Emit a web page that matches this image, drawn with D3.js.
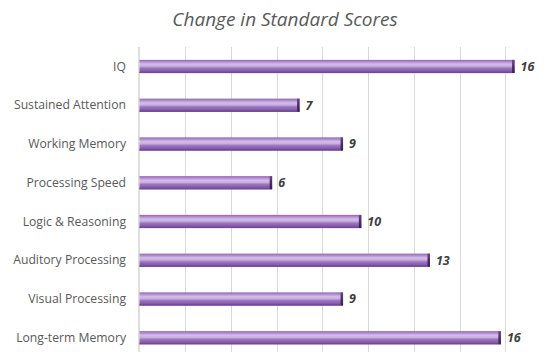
<!DOCTYPE html>
<html>
<head>
<meta charset="utf-8">
<script src="https://cdn.jsdelivr.net/npm/d3@7"></script>
<style>
  html, body { margin: 0; padding: 0; background: #fff; }
  svg { display: block; }
</style>
</head>
<body>
<svg id="chart" width="545" height="352"></svg>
<script>
// Change in standard scores per cognitive skill
const categories = [
  "IQ",
  "Sustained Attention",
  "Working Memory",
  "Processing Speed",
  "Logic & Reasoning",
  "Auditory Processing",
  "Visual Processing",
  "Long-term Memory"
];
const scoreChange = [16.4, 7.0, 8.9, 5.8, 9.7, 12.7, 8.9, 15.8];
const xTicks = [2, 4, 6, 8, 10, 12, 14, 16, 18];
const chartTitle = "Change in Standard Scores";

const svg = d3.select("#chart");
const W = 545, H = 352;

const x = d3.scaleLinear().domain([0, 18]).range([139.5, 551.2]);
const y = d3.scaleBand().domain(categories).range([47.1, 357.1]).paddingInner(0.66).paddingOuter(0.33);

// bar gradient: rounded cylinder look
const defs = svg.append("defs");
const grad = defs.append("linearGradient")
  .attr("id", "barFill").attr("x1", 0).attr("y1", 0).attr("x2", 0).attr("y2", 1);
[
  [0, "#8e62b4"], [0.12, "#ad86cc"], [0.32, "#d4bde8"], [0.48, "#c8aee0"],
  [0.62, "#9d77c0"], [0.85, "#8459aa"], [1, "#673f8a"]
].forEach(([o, c]) => grad.append("stop").attr("offset", o).attr("stop-color", c));

const capGrad = defs.append("linearGradient")
  .attr("id", "capFill").attr("x1", 0).attr("y1", 0).attr("x2", 0).attr("y2", 1);
[[0, "#6a4589"], [0.5, "#4a2b66"], [1, "#3c2054"]]
  .forEach(([o, c]) => capGrad.append("stop").attr("offset", o).attr("stop-color", c));

// vertical gridlines
svg.append("g").selectAll("line").data(xTicks).join("line")
  .attr("x1", d => Math.round(x(d)) + 0.5).attr("x2", d => Math.round(x(d)) + 0.5)
  .attr("y1", 47).attr("y2", H)
  .attr("stroke", "#d9d9d9").attr("stroke-width", 1);

// category axis line
svg.append("line")
  .attr("x1", 139).attr("x2", 139).attr("y1", 47).attr("y2", H)
  .attr("stroke", "#bfbfbf").attr("stroke-width", 1);

// title
svg.append("text")
  .attr("x", 285).attr("y", 26)
  .attr("text-anchor", "middle")
  .attr("font-family", "'Open Sans', sans-serif")
  .attr("font-style", "italic")
  .attr("font-size", 19)
  .attr("fill", "#595959")
  .text(chartTitle);

// category labels
svg.append("g").selectAll("text").data(categories).join("text")
  .attr("x", 126)
  .attr("y", d => y(d) + y.bandwidth() / 2)
  .attr("dy", "0.35em")
  .attr("text-anchor", "end")
  .attr("font-family", "'Open Sans', sans-serif")
  .attr("font-size", 12.2)
  .attr("fill", "#595959")
  .text(d => d);

const rows = categories.map((c, i) => ({ c, v: scoreChange[i] }));

// bars
const bars = svg.append("g").selectAll("g").data(rows).join("g");
bars.append("rect")
  .attr("x", x(0))
  .attr("y", d => y(d.c))
  .attr("width", d => x(d.v) - x(0))
  .attr("height", y.bandwidth())
  .attr("fill", "url(#barFill)");
// darker end cap
bars.append("rect")
  .attr("x", d => x(d.v) - 2.5)
  .attr("y", d => y(d.c))
  .attr("width", 2.5)
  .attr("height", y.bandwidth())
  .attr("fill", "url(#capFill)");
// bottom shading edge
bars.append("rect")
  .attr("x", x(0))
  .attr("y", d => y(d.c) + y.bandwidth() - 1.2)
  .attr("width", d => x(d.v) - x(0) - 2.5)
  .attr("height", 1.2)
  .attr("fill", "#74499a");

// value labels
svg.append("g").selectAll("text").data(rows).join("text")
  .attr("x", d => x(d.v) + 6)
  .attr("y", d => y(d.c) + y.bandwidth() / 2)
  .attr("dy", "0.36em")
  .attr("font-family", "'Open Sans', sans-serif")
  .attr("font-style", "italic")
  .attr("font-weight", "bold")
  .attr("font-size", 12.5)
  .attr("fill", "#404040")
  .text(d => d3.format(".0f")(d.v));
</script>
</body>
</html>
